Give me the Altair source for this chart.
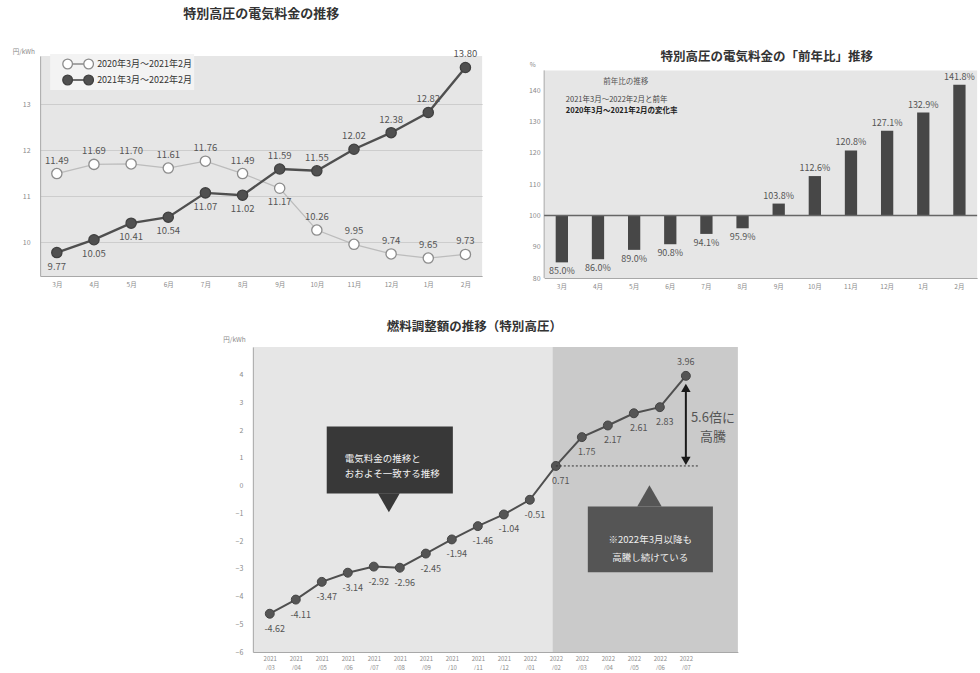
import altair as alt
import pandas as pd

FONT = "Noto Sans CJK JP"

# ---- data ---------------------------------------------------------------
months = ["3月", "4月", "5月", "6月", "7月", "8月", "9月", "10月", "11月", "12月", "1月", "2月"]
series_names = ["2020年3月～2021年2月", "2021年3月～2022年2月"]
price_prev = [11.49, 11.69, 11.70, 11.61, 11.76, 11.49, 11.17, 10.26, 9.95, 9.74, 9.65, 9.73]
price_curr = [9.77, 10.05, 10.41, 10.54, 11.07, 11.02, 11.59, 11.55, 12.02, 12.38, 12.82, 13.80]

yoy_ratio = [85.0, 86.0, 89.0, 90.8, 94.1, 95.9, 103.8, 112.6, 120.8, 127.1, 132.9, 141.8]
yoy_note = ["前年比の推移", "2021年3月～2022年2月と前年", "2020年3月～2021年2月の変化率"]

fuel_months = ["2021/03", "2021/04", "2021/05", "2021/06", "2021/07", "2021/08",
               "2021/09", "2021/10", "2021/11", "2021/12", "2022/01", "2022/02",
               "2022/03", "2022/04", "2022/05", "2022/06", "2022/07"]
fuel_adj = [-4.62, -4.11, -3.47, -3.14, -2.92, -2.96, -2.45, -1.94, -1.46, -1.04,
            -0.51, 0.71, 1.75, 2.17, 2.61, 2.83, 3.96]
callout_left = "電気料金の推移と\nおおよそ一致する推移"
callout_right = "※2022年3月以降も\n高騰し続けている"

one = pd.DataFrame({"k": [0]})
LABEL_GRAY = "#8a8a8a"
AXIS_LINE = "#a8a8a8"
PANEL_BG = "#e6e6e6"
MANY = 100          # tick budget large enough that explicit tick values are all kept

# ---- panel 1: monthly price, two years -----------------------------------
rows = []
for m, p, c in zip(months, price_prev, price_curr):
    rows.append({"month": m, "series": series_names[0], "value": p,
                 "above": not (p < c < p + 1)})
    rows.append({"month": m, "series": series_names[1], "value": c, "above": c > p})
price_df = pd.DataFrame(rows)
price_df["label"] = price_df["value"].map("{:.2f}".format)

x1 = alt.X("month:N", sort=months, title=None,
           scale=alt.Scale(type="point", padding=0.45),
           axis=alt.Axis(labelAngle=0, labelFontSize=6.5, labelColor=LABEL_GRAY,
                         ticks=False, domainColor=AXIS_LINE, labelPadding=5))
y1 = alt.Y("value:Q", title="円/kWh",
           scale=alt.Scale(domain=[9.26, 14.05], nice=False, zero=False),
           axis=alt.Axis(values=[10, 11, 12, 13], tickCount=MANY, format="d",
                         gridColor="#cdcdcd", ticks=False, domainColor=AXIS_LINE,
                         labelFontSize=7, labelColor=LABEL_GRAY, labelPadding=10,
                         labelOverlap=False, titleAngle=0, titleAlign="left",
                         titleBaseline="bottom", titleX=-28, titleY=-2, titleFontSize=6.5,
                         titleColor=LABEL_GRAY, titleFontWeight="normal"))

# legend symbol: two markers joined by a short line
legend_path = ("M-2.19,0 A0.69,0.69 0 1,0 -0.81,0 A0.69,0.69 0 1,0 -2.19,0 Z "
               "M0.81,0 A0.69,0.69 0 1,0 2.19,0 A0.69,0.69 0 1,0 0.81,0 Z "
               "M-0.81,0 L0.81,0")
leg = alt.Legend(title=None, orient="none", legendX=10, legendY=-2, direction="vertical",
                 symbolType=legend_path, symbolSize=196, symbolStrokeWidth=1.3,
                 symbolOffset=18, labelOffset=11, labelFontSize=9, labelColor="#333",
                 fillColor="#f3f3f3", padding=2, rowPadding=0, labelFont=FONT)

base1 = alt.Chart(price_df).encode(x=x1, y=y1)
line1_prev = base1.transform_filter(alt.datum.series == series_names[0]).mark_line(
    color="#bcbcbc", strokeWidth=1.3)
line1_curr = base1.transform_filter(alt.datum.series == series_names[1]).mark_line(
    color="#4f4f4f", strokeWidth=2.4)
pts1 = base1.mark_point(filled=True, size=105, strokeWidth=1.3, opacity=1).encode(
    fill=alt.Fill("series:N", scale=alt.Scale(domain=series_names, range=["#ffffff", "#505050"]),
                  legend=leg),
    stroke=alt.Stroke("series:N", scale=alt.Scale(domain=series_names, range=["#8c8c8c", "#404040"]),
                      legend=leg),
)
lab1_up = base1.transform_filter("datum.above").mark_text(
    dy=-13, fontSize=9.5, color="#555", font=FONT).encode(text="label:N")
lab1_dn = base1.transform_filter("!datum.above").mark_text(
    dy=14, fontSize=9.5, color="#555", font=FONT).encode(text="label:N")

panel1 = alt.layer(line1_prev, line1_curr, pts1, lab1_up, lab1_dn).properties(
    width=442, height=220, view=alt.ViewBackground(fill=PANEL_BG, stroke=None),
    title=alt.TitleParams("特別高圧の電気料金の推移", fontSize=13, font=FONT, fontWeight="bold",
                          color="#333", offset=27),
)

# ---- panel 2: year-on-year ratio ------------------------------------------
yoy_df = pd.DataFrame({"month": months, "ratio": yoy_ratio})
yoy_df["label"] = yoy_df["ratio"].map("{:.1f}%".format)
yoy_df["up"] = yoy_df["ratio"] >= 100

W2, H2 = 433, 222
Y2_TOP = 146.4      # top of the shaded plot frame
x2 = alt.X("month:N", sort=months, title=None,
           scale=alt.Scale(paddingInner=0.66, paddingOuter=0.32),
           axis=alt.Axis(labelAngle=0, labelFontSize=6.5, labelColor=LABEL_GRAY, ticks=False,
                         domainColor=AXIS_LINE, labelPadding=5))
y2 = alt.Y("ratio:Q", title="%",
           scale=alt.Scale(domain=[80, 151.0], nice=False, zero=False),
           axis=alt.Axis(values=[80, 90, 100, 110, 120, 130, 140], tickCount=MANY, format="d",
                         gridColor="#d2d2d2", ticks=False, domain=False, labelFontSize=7,
                         labelOverlap=False, labelColor=LABEL_GRAY, labelPadding=4,
                         titleAngle=0, titleAlign="left", titleBaseline="middle", titleX=-15,
                         titleY=8, titleFontSize=6.5, titleColor=LABEL_GRAY,
                         titleFontWeight="normal"))

frame2 = alt.Chart(one).mark_rect(color=PANEL_BG).encode(
    x=alt.value(0), x2=alt.value(W2), y=alt.datum(80), y2=alt.datum(Y2_TOP))
edge2 = alt.Chart(one).mark_rule(color=AXIS_LINE).encode(
    x=alt.value(0), y=alt.datum(80), y2=alt.datum(Y2_TOP))
base2 = alt.Chart(yoy_df).encode(x=x2, y=y2)
bars2 = base2.mark_bar(color="#474747").encode(y2=alt.datum(100))
rule2 = alt.Chart(one).mark_rule(color="#666", strokeWidth=1.5).encode(y=alt.datum(100))
lab2_up = base2.transform_filter("datum.up").mark_text(
    dy=-8, fontSize=9, color="#555", font=FONT).encode(text="label:N")
lab2_dn = base2.transform_filter("!datum.up").mark_text(
    dy=9, fontSize=9, color="#555", font=FONT).encode(text="label:N")
note2a = alt.Chart(one).mark_text(fontSize=7.5, color="#555", font=FONT, dx=64).encode(
    x=alt.datum(months[0]), y=alt.datum(142.8), text=alt.value(yoy_note[0]))
note2b = alt.Chart(one).mark_text(fontSize=7.5, color="#444", font=FONT, align="left", dx=4).encode(
    x=alt.datum(months[0]), y=alt.datum(137.0), text=alt.value(yoy_note[1]))
note2c = alt.Chart(one).mark_text(fontSize=7.5, color="#222", font=FONT, align="left", dx=4,
                                  fontWeight="bold").encode(
    x=alt.datum(months[0]), y=alt.datum(133.5), text=alt.value(yoy_note[2]))

panel2 = alt.layer(frame2, edge2, bars2, rule2, lab2_up, lab2_dn,
                   note2a, note2b, note2c).properties(
    width=W2, height=H2,
    title=alt.TitleParams("特別高圧の電気料金の「前年比」推移", fontSize=12.5, font=FONT,
                          fontWeight="bold", color="#333", offset=-7, dx=6),
)

# ---- panel 3: fuel cost adjustment -----------------------------------------
n3 = len(fuel_months)
fuel_df = pd.DataFrame({"idx": list(range(n3)), "month": fuel_months, "value": fuel_adj})
fuel_df["label"] = fuel_df["value"].map("{:.2f}".format)
fuel_df["above"] = fuel_df["value"] == max(fuel_adj)

X3_DOMAIN = [-0.65, 18.0]
month_lines = ",".join("['%s','%s']" % (m[:4], m[4:]) for m in fuel_months)
x3 = alt.X("idx:Q", title=None, scale=alt.Scale(domain=X3_DOMAIN, nice=False, zero=False),
           axis=alt.Axis(values=list(range(n3)), tickCount=MANY,
                         labelExpr="[%s][datum.value]" % month_lines,
                         grid=False, ticks=False, labelFontSize=6, labelColor=LABEL_GRAY,
                         labelLineHeight=9, labelOverlap=False, domainColor=AXIS_LINE,
                         labelPadding=3))
y3 = alt.Y("value:Q", title="円/kWh", scale=alt.Scale(domain=[-6, 5], nice=False, zero=False),
           axis=alt.Axis(values=[v / 2 for v in range(-12, 10)], tickCount=MANY, format="d",
                         labelExpr="datum.value % 1 == 0 ? datum.label : ''",
                         gridColor="#f4f4f4", ticks=False, domainColor=AXIS_LINE,
                         labelFontSize=7, labelColor=LABEL_GRAY, labelPadding=10,
                         labelOverlap=False, titleAngle=0, titleAlign="left",
                         titleBaseline="bottom", titleX=-30, titleY=-5, titleFontSize=6.5,
                         titleColor=LABEL_GRAY, titleFontWeight="normal"))

base_idx = fuel_months.index("2022/02")
shade3 = alt.Chart(one).mark_rect(color="black", opacity=0.12).encode(
    x=alt.datum(base_idx - 0.12), x2=alt.datum(X3_DOMAIN[1]), y=alt.datum(-6), y2=alt.datum(5))

base3 = alt.Chart(fuel_df).encode(x=x3, y=y3)
line3 = base3.mark_line(color="#4f4f4f", strokeWidth=2)
pts3 = base3.mark_circle(size=80, color="#555", opacity=1, stroke="#444", strokeWidth=1)
lab3_dn = base3.transform_filter("!datum.above").mark_text(
    dx=5, dy=15, fontSize=9, color="#555", font=FONT).encode(text="label:N")
lab3_up = base3.transform_filter("datum.above").mark_text(
    dy=-14, fontSize=9, color="#555", font=FONT).encode(text="label:N")

# reference level of 2022/02 and the rise to the latest month
base_val = fuel_adj[base_idx]
last_idx = n3 - 1
dotted3 = alt.Chart(one).mark_rule(color="#333", strokeDash=[2, 2], strokeWidth=1).encode(
    x=alt.datum(base_idx), x2=alt.datum(16.5), y=alt.datum(base_val))
arrow3 = alt.Chart(one).mark_rule(color="#1a1a1a", strokeWidth=2, yOffset=-6, y2Offset=14).encode(
    x=alt.datum(last_idx), y=alt.datum(base_val), y2=alt.datum(fuel_adj[-1]))
head_up = alt.Chart(one).mark_point(shape="triangle-up", filled=True, size=90, color="#1a1a1a",
                                    opacity=1, yOffset=12).encode(
    x=alt.datum(last_idx), y=alt.datum(fuel_adj[-1]))
head_dn = alt.Chart(one).mark_point(shape="triangle-down", filled=True, size=90, color="#1a1a1a",
                                    opacity=1, yOffset=-5).encode(
    x=alt.datum(last_idx), y=alt.datum(base_val))
ratio_text = "%.1f倍に\n高騰" % (fuel_adj[-1] / base_val)
ratio3 = alt.Chart(one).mark_text(fontSize=13, color="#555", font=FONT, lineBreak="\n",
                                  lineHeight=19).encode(
    x=alt.datum(17.04), y=alt.datum(2.45), text=alt.value(ratio_text))
# keeps the panel's right margin so the column centres on the plot
margin3 = alt.Chart(one).mark_text(opacity=0, fontSize=9, dx=26).encode(
    x=alt.datum(X3_DOMAIN[1]), y=alt.datum(0), text=alt.value("."))

box_l = alt.Chart(one).mark_rect(color="#383838").encode(
    x=alt.datum(2.19), x2=alt.datum(7.04), y=alt.datum(2.13), y2=alt.datum(-0.28))
tri_l = alt.Chart(one).mark_point(shape="triangle-down", filled=True, size=480, color="#383838",
                                  opacity=1).encode(x=alt.datum(4.58), y=alt.datum(-0.62))
txt_l = alt.Chart(one).mark_text(fontSize=9.5, color="#f2f2f2", font=FONT, align="left",
                                 lineBreak="\n", lineHeight=15).encode(
    x=alt.datum(2.88), y=alt.datum(0.96), text=alt.value(callout_left))

box_r = alt.Chart(one).mark_rect(color="#555555").encode(
    x=alt.datum(12.23), x2=alt.datum(17.04), y=alt.datum(-0.75), y2=alt.datum(-3.12))
tri_r = alt.Chart(one).mark_point(shape="triangle-up", filled=True, size=600, color="#555555",
                                  opacity=1).encode(x=alt.datum(14.6), y=alt.datum(-0.37))
txt_r = alt.Chart(one).mark_text(fontSize=9.5, color="#eeeeee", font=FONT, lineBreak="\n",
                                 lineHeight=18).encode(
    x=alt.datum(14.63), y=alt.datum(-1.97), text=alt.value(callout_right))

panel3 = alt.layer(shade3, line3, pts3, lab3_dn, lab3_up, dotted3, arrow3, head_up, head_dn,
                   ratio3, margin3, box_l, tri_l, txt_l, box_r, tri_r, txt_r).properties(
    width=485, height=305, view=alt.ViewBackground(fill=PANEL_BG, stroke=None),
    title=alt.TitleParams("燃料調整額の推移（特別高圧）", fontSize=12.5, font=FONT,
                          fontWeight="bold", color="#333", offset=3, dx=-21),
)

independent = dict(fill="independent", stroke="independent")
top = alt.hconcat(panel1, panel2, spacing=46).resolve_scale(**independent).resolve_legend(
    **independent)
chart = alt.vconcat(top, panel3, spacing=30, center=True).resolve_scale(
    **independent).resolve_legend(**independent).properties(
    padding={"left": 12, "top": 8, "right": 0, "bottom": 0}
).configure(font=FONT).configure_view(stroke=None)

chart.save("out.html", embed_options={"renderer": "svg", "actions": False})
